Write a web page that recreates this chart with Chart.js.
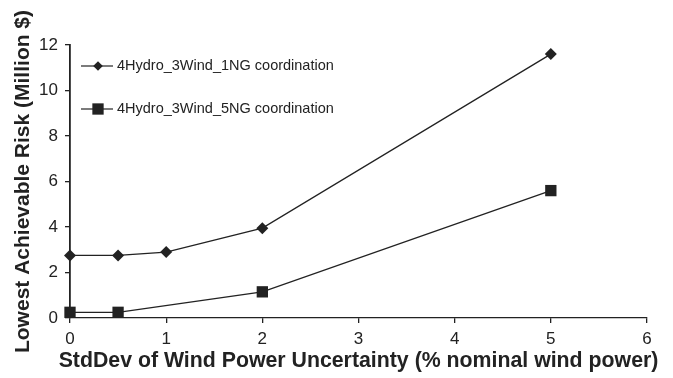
<!DOCTYPE html>
<html>
<head>
<meta charset="utf-8">
<script src="https://cdn.jsdelivr.net/npm/chart.js@4/dist/chart.umd.min.js"></script>
<style>
  html, body { margin: 0; padding: 0; background: #fff; }
  #wrap { width: 673px; height: 378px; }
</style>
</head>
<body>
<div id="wrap"><canvas id="risk"></canvas></div>
<script>
"use strict";

// data
const stdDev1NG = [0, 0.5, 1, 2, 5];
const risk1NG = [2.75, 2.75, 2.9, 3.95, 11.6];
const stdDev5NG = [0, 0.5, 2, 5];
const risk5NG = [0.25, 0.25, 1.15, 5.6];
const seriesNames = ["4Hydro_3Wind_1NG coordination", "4Hydro_3Wind_5NG coordination"];
const xTitle = "StdDev of Wind Power Uncertainty (% nominal wind power)";
const yTitle = "Lowest Achievable Risk (Million $)";

const ink = "#222222";
const font = "Liberation Sans, Arial, sans-serif";

let toPoints = (xs, ys) => xs.map((x, i) => ({ x: x, y: ys[i] }));

// legend drawn inside the plot, line + marker like the original
const insideLegend = {
  id: "insideLegend",
  afterDraw(chart) {
    let ctx = chart.ctx;
    let area = chart.chartArea;
    let rows = [area.top + 21, area.top + 64];
    ctx.save();
    chart.data.datasets.forEach((ds, i) => {
      let y = rows[i];
      let x0 = area.left + 11;
      ctx.strokeStyle = ink;
      ctx.lineWidth = 1.2;
      ctx.beginPath();
      ctx.moveTo(x0, y);
      ctx.lineTo(x0 + 32, y);
      ctx.stroke();
      Chart.helpers.drawPoint(ctx, {
        pointStyle: ds.pointStyle,
        radius: i === 0 ? 4.8 : 8,
        borderWidth: 0
      }, x0 + 17, y);
      ctx.fillStyle = ink;
      ctx.font = "14.5px " + font;
      ctx.textBaseline = "middle";
      ctx.fillText(ds.label, x0 + 36, y);
    });
    ctx.restore();
  }
};

// x title is wider than the plot, so draw it here (the scale title would squeeze it)
const wideXTitle = {
  id: "wideXTitle",
  afterDraw(chart) {
    let ctx = chart.ctx;
    let area = chart.chartArea;
    ctx.save();
    ctx.fillStyle = ink;
    ctx.font = "bold 21.3px " + font;
    ctx.textAlign = "center";
    ctx.textBaseline = "middle";
    ctx.fillText(xTitle, (area.left + area.right) / 2, area.bottom + 43);
    ctx.restore();
  }
};

let chartEl = document.querySelector("#risk");
let riskChart = new Chart(chartEl, {
  type: "line",
  data: {
    datasets: [{
      label: seriesNames[0],
      data: toPoints(stdDev1NG, risk1NG),
      borderColor: ink,
      borderWidth: 1.3,
      backgroundColor: ink,
      pointStyle: "rectRot",
      pointRadius: 6,
      pointBorderWidth: 0,
      pointBackgroundColor: ink,
      clip: false
    }, {
      label: seriesNames[1],
      data: toPoints(stdDev5NG, risk5NG),
      borderColor: ink,
      borderWidth: 1.3,
      backgroundColor: ink,
      pointStyle: "rect",
      pointRadius: 8,
      pointBorderWidth: 0,
      pointBackgroundColor: ink,
      clip: false
    }]
  },
  plugins: [insideLegend, wideXTitle],
  options: {
    responsive: true,
    maintainAspectRatio: false,
    animation: false,
    layout: { padding: { top: 45, right: 26, left: 0, bottom: 0 } },
    plugins: {
      legend: { display: false },
      tooltip: { enabled: false }
    },
    scales: {
      x: {
        type: "linear",
        min: 0,
        max: 6,
        afterFit: scale => { scale.height = 60; },
        ticks: { stepSize: 1, color: ink, padding: 6, font: { family: font, size: 17 } },
        grid: { drawOnChartArea: false, tickLength: 5, color: ink, lineWidth: 1.3 },
        border: { color: ink, width: 1.3 },
        title: { display: false }
      },
      y: {
        min: 0,
        max: 12,
        afterFit: scale => { scale.width = 70; },
        ticks: { stepSize: 2, color: ink, padding: 7, font: { family: font, size: 17 } },
        grid: { drawOnChartArea: false, tickLength: 5, color: ink, lineWidth: 1.3 },
        border: { color: ink, width: 1.8 },
        title: {
          display: true,
          text: yTitle,
          color: ink,
          padding: { top: 11 },
          font: { family: font, size: 21, weight: "bold" }
        }
      }
    }
  }
});
</script>
</body>
</html>
